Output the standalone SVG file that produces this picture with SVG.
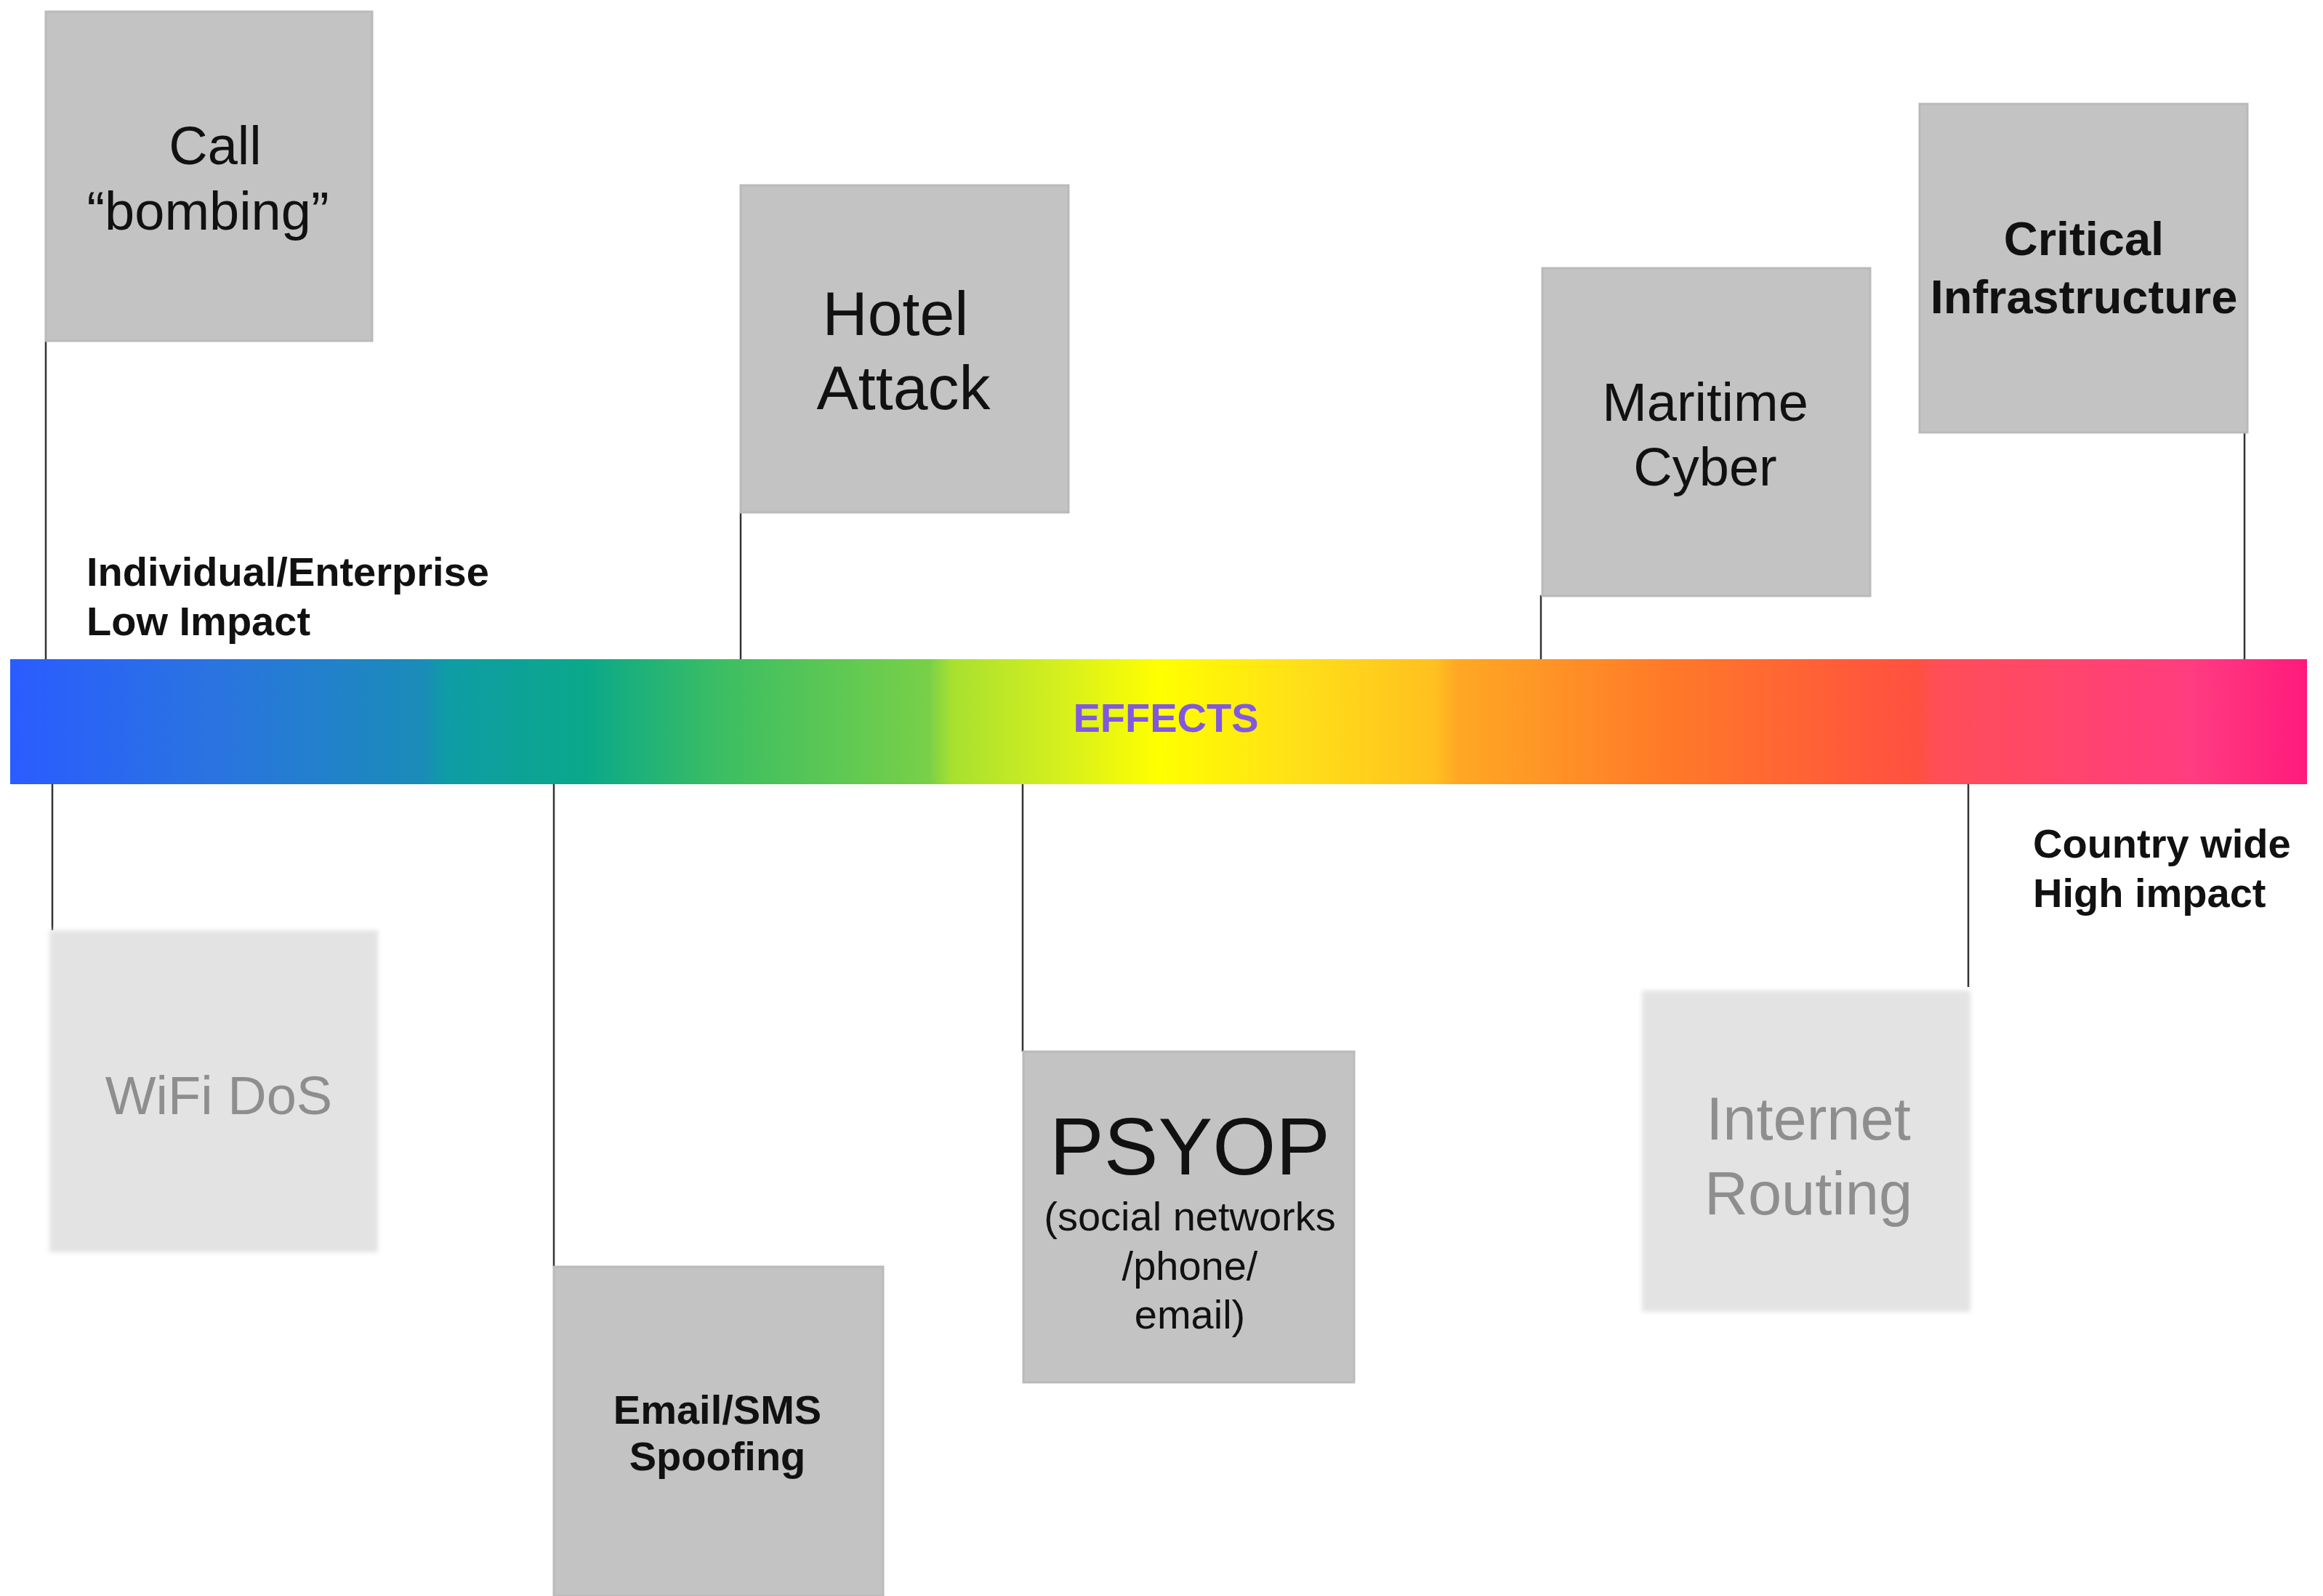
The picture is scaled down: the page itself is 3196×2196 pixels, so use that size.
<svg xmlns="http://www.w3.org/2000/svg" width="3196" height="2196" viewBox="0 0 3196 2196">
  <defs>
    <linearGradient id="spectrum" x1="14" y1="0" x2="3174" y2="0" gradientUnits="userSpaceOnUse">
      <stop offset="0" stop-color="#2a5cff"/>
      <stop offset="0.09" stop-color="#2a74e0"/>
      <stop offset="0.18" stop-color="#1a8cb8"/>
      <stop offset="0.19" stop-color="#0f9ca6"/>
      <stop offset="0.25" stop-color="#0aa88a"/>
      <stop offset="0.31" stop-color="#3cbe62"/>
      <stop offset="0.40" stop-color="#78d048"/>
      <stop offset="0.41" stop-color="#a8e030"/>
      <stop offset="0.46" stop-color="#d8f01c"/>
      <stop offset="0.50" stop-color="#ffff00"/>
      <stop offset="0.56" stop-color="#ffe018"/>
      <stop offset="0.62" stop-color="#ffc020"/>
      <stop offset="0.63" stop-color="#ffa824"/>
      <stop offset="0.72" stop-color="#ff7a28"/>
      <stop offset="0.83" stop-color="#ff5040"/>
      <stop offset="0.84" stop-color="#ff4e58"/>
      <stop offset="0.95" stop-color="#ff3c80"/>
      <stop offset="1" stop-color="#ff1a7c"/>
    </linearGradient>
    <filter id="soft" x="-10%" y="-10%" width="120%" height="120%">
      <feGaussianBlur stdDeviation="3"/>
    </filter>
    <style>
      .box { fill: #c3c3c3; stroke: #bababa; stroke-width: 3; }
      .faint { fill: #e3e3e3; }
      .t { font-family: "Liberation Sans", Arial, sans-serif; fill: #111; text-anchor: middle; }
      .b { font-weight: bold; }
      .lbl { font-family: "Liberation Sans", Arial, sans-serif; font-weight: bold; font-size: 56px; fill: #111; }
      .ft { font-family: "Liberation Sans", Arial, sans-serif; fill: #8e8e8e; text-anchor: middle; }
      .conn { stroke: #333; stroke-width: 2.5; fill: none; }
    </style>
  </defs>

  <rect width="3196" height="2196" fill="#ffffff"/>

  <g id="connectors">
    <line class="conn" x1="63" y1="469" x2="63" y2="910"/>
    <line class="conn" x1="1019" y1="705" x2="1019" y2="910"/>
    <line class="conn" x1="2120" y1="819" x2="2120" y2="910"/>
    <line class="conn" x1="3088" y1="595" x2="3088" y2="910"/>
    <line class="conn" x1="72" y1="1076" x2="72" y2="1280"/>
    <line class="conn" x1="762" y1="1076" x2="762" y2="1743"/>
    <line class="conn" x1="1407" y1="1076" x2="1407" y2="1447"/>
    <line class="conn" x1="2708" y1="1076" x2="2708" y2="1358"/>
  </g>

  <g id="effects-bar">
    <rect x="14" y="907" width="3160" height="172" fill="url(#spectrum)"/>
    <text x="1604" y="1007" class="t b" font-size="56" style="fill:#8158e0">EFFECTS</text>
  </g>

  <g id="label-low">
    <text class="lbl" x="119" y="806">Individual/Enterprise</text>
    <text class="lbl" x="119" y="874">Low Impact</text>
  </g>

  <g id="label-high">
    <text class="lbl" x="2797" y="1180">Country wide</text>
    <text class="lbl" x="2797" y="1248">High impact</text>
  </g>

  <g id="call-bombing">
    <rect class="box" x="63" y="16" width="449" height="453"/>
    <text class="t" font-size="74" x="296" y="226">Call</text>
    <text class="t" font-size="74" x="286" y="316">“bombing”</text>
  </g>

  <g id="hotel-attack">
    <rect class="box" x="1019" y="255" width="451" height="450"/>
    <text class="t" font-size="86" x="1232" y="461">Hotel</text>
    <text class="t" font-size="86" x="1243" y="563">Attack</text>
  </g>

  <g id="maritime-cyber">
    <rect class="box" x="2122" y="369" width="451" height="451"/>
    <text class="t" font-size="74" x="2346" y="579">Maritime</text>
    <text class="t" font-size="74" x="2346" y="668">Cyber</text>
  </g>

  <g id="critical-infrastructure">
    <rect class="box" x="2641" y="143" width="451" height="452"/>
    <text class="t b" font-size="65" x="2867" y="351">Critical</text>
    <text class="t b" font-size="65" x="2867" y="431">Infrastructure</text>
  </g>

  <g id="wifi-dos">
    <rect class="faint" x="68" y="1280" width="452" height="443" filter="url(#soft)"/>
    <text class="ft" font-size="74" x="301" y="1533">WiFi DoS</text>
  </g>

  <g id="email-sms-spoofing">
    <rect class="box" x="762" y="1743" width="453" height="453"/>
    <text class="t b" font-size="56" x="987" y="1959">Email/SMS</text>
    <text class="t b" font-size="56" x="987" y="2023">Spoofing</text>
  </g>

  <g id="psyop">
    <rect class="box" x="1408" y="1447" width="455" height="455"/>
    <text class="t" font-size="112" x="1637" y="1616">PSYOP</text>
    <text class="t" font-size="56" x="1637" y="1693">(social networks</text>
    <text class="t" font-size="56" x="1637" y="1761">/phone/</text>
    <text class="t" font-size="56" x="1637" y="1828">email)</text>
  </g>

  <g id="internet-routing">
    <rect class="faint" x="2259" y="1363" width="452" height="442" filter="url(#soft)"/>
    <text class="ft" font-size="83" x="2488" y="1568">Internet</text>
    <text class="ft" font-size="83" x="2488" y="1671">Routing</text>
  </g>
</svg>
